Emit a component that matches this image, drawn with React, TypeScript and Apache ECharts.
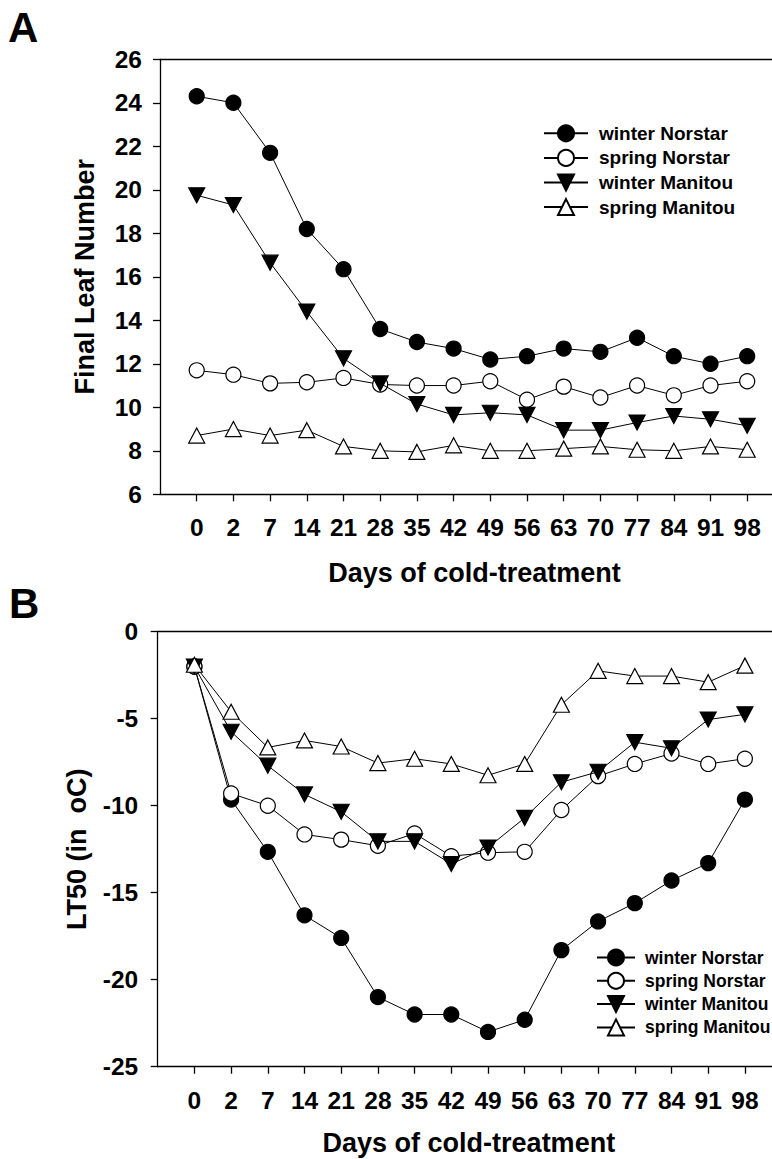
import React, { useEffect, useRef } from "react";
import * as echarts from "echarts";

const categories = ["0", "2", "7", "14", "21", "28", "35", "42", "49", "56", "63", "70", "77", "84", "91", "98"];
const seriesNames = ["winter Norstar", "spring Norstar", "winter Manitou", "spring Manitou"];

// Panel A: Final Leaf Number
const winterNorstarA = [24.3, 24.0, 21.7, 18.2, 16.35, 13.6, 13.0, 12.7, 12.2, 12.35, 12.7, 12.55, 13.2, 12.35, 12.0, 12.35];
const springNorstarA = [11.7, 11.5, 11.1, 11.15, 11.35, 11.05, 11.0, 11.0, 11.2, 10.35, 10.95, 10.45, 11.0, 10.55, 11.0, 11.2];
const winterManitouA = [19.75, 19.3, 16.65, 14.4, 12.25, 11.1, 10.15, 9.65, 9.75, 9.65, 8.95, 8.95, 9.3, 9.6, 9.45, 9.15];
const springManitouA = [8.7, 9.0, 8.7, 8.95, 8.2, 8.0, 7.95, 8.25, 8.0, 8.0, 8.1, 8.2, 8.05, 8.0, 8.2, 8.05];

// Panel B: LT50
const winterNorstarB = [-2.0, -9.65, -12.65, -16.3, -17.6, -21.0, -22.0, -22.0, -23.0, -22.3, -18.3, -16.65, -15.6, -14.3, -13.3, -9.65];
const springNorstarB = [-2.0, -9.3, -10.0, -11.65, -11.95, -12.3, -11.6, -12.9, -12.7, -12.65, -10.25, -8.3, -7.6, -7.0, -7.6, -7.3];
const winterManitouB = [-2.0, -5.75, -7.7, -9.35, -10.35, -12.05, -12.05, -13.35, -12.4, -10.7, -8.65, -8.05, -6.35, -6.7, -5.05, -4.75];
const springManitouB = [-1.9, -4.6, -6.65, -6.25, -6.6, -7.55, -7.3, -7.6, -8.25, -7.6, -4.2, -2.25, -2.55, -2.55, -2.9, -1.95];

const FONT = "'Liberation Sans', Arial, Helvetica, sans-serif";

const styles = [
  { symbol: "circle", symbolSize: 15, rotate: 0, fill: "#000" },
  { symbol: "circle", symbolSize: 15, rotate: 0, fill: "#fff" },
  { symbol: "triangle", symbolSize: [16, 15], rotate: 180, fill: "#000" },
  { symbol: "triangle", symbolSize: [16, 15], rotate: 0, fill: "#fff" },
];

const tickIdx = categories.map((_, i) => i);

function makeSeries(values: number[], k: number, gi: number) {
  const s = styles[k];
  return {
    type: "line",
    name: seriesNames[k],
    xAxisIndex: gi * 2,
    yAxisIndex: gi,
    data: values.map((v, i) => [i, v]),
    symbol: s.symbol,
    symbolSize: s.symbolSize,
    symbolRotate: s.rotate,
    showAllSymbol: true,
    silent: true,
    lineStyle: { color: "#000", width: 1 },
    itemStyle: { color: s.fill, borderColor: "#000", borderWidth: 1.2, opacity: 1 },
    emphasis: { disabled: true },
    z: 2 + k,
  };
}

function xAxes(gi: number, max: number) {
  const common = {
    type: "value",
    gridIndex: gi,
    min: -1,
    max,
    interval: 1,
    splitLine: { show: false },
    axisLine: { show: true, onZero: false, lineStyle: { color: "#000", width: 1.3 } },
  };
  return [
    {
      ...common,
      position: "bottom",
      name: "Days of cold-treatment",
      nameLocation: "middle",
      nameGap: gi === 0 ? 65 : 63,
      nameTextStyle: {
        fontFamily: FONT,
        fontWeight: "bold",
        fontSize: 27,
        color: "#000",
        padding: gi === 0 ? [0, 0, 0, 17] : [0, 0, 0, 8],
      },
      axisTick: {
        show: true,
        customValues: tickIdx,
        inside: false,
        length: 7,
        lineStyle: { color: "#000", width: 1.3 },
      },
      axisLabel: {
        show: true,
        customValues: tickIdx,
        margin: gi === 0 ? 20.5 : 21,
        fontFamily: FONT,
        fontWeight: "bold",
        fontSize: 24.5,
        color: "#000",
        formatter: (v: number) => categories[Math.round(v)] ?? "",
      },
    },
    {
      ...common,
      position: "top",
      axisTick: { show: false },
      axisLabel: { show: false },
    },
  ];
}

function yAxis(gi: number, min: number, max: number, interval: number, name: string, nameGap: number, margin: number) {
  return {
    type: "value",
    gridIndex: gi,
    min,
    max,
    interval,
    name,
    nameLocation: "middle",
    nameRotate: 90,
    nameGap,
    nameTextStyle: { fontFamily: FONT, fontWeight: "bold", fontSize: 27, color: "#000" },
    splitLine: { show: false },
    axisLine: { show: true, onZero: false, lineStyle: { color: "#000", width: 1.3 } },
    axisTick: { show: true, length: 7, lineStyle: { color: "#000", width: 1.3 } },
    axisLabel: { margin, fontFamily: FONT, fontWeight: "bold", fontSize: 24.5, color: "#000" },
  };
}

export default function App() {
  const ref = useRef<HTMLDivElement>(null);
  useEffect(() => {
    if (!ref.current) return;
    const chart = echarts.init(ref.current, null, { renderer: "svg" });
    const option = {
      animation: false,
      backgroundColor: "#fff",
      grid: [
        { left: 160, top: 59.3, right: 0, height: 435 },
        { left: 157.7, top: 631.7, right: 0, height: 435 },
      ],
      xAxis: [...xAxes(0, -1 + 612 / 36.7), ...xAxes(1, -1 + 614.3 / 36.7)],
      yAxis: [
        yAxis(0, 6, 26, 2, "Final Leaf Number", 62, 18),
        yAxis(1, -25, 0, 5, "LT50 (in  oC)", 67, 19.5),
      ],
      legend: [
        {
          data: seriesNames,
          orient: "vertical",
          left: 538,
          top: 118.3,
          itemWidth: 44,
          itemHeight: 20,
          itemGap: 4.6,
          selectedMode: false,
          textStyle: {
            fontFamily: FONT,
            fontWeight: "bold",
            fontSize: 19,
            lineHeight: 20,
            color: "#000",
            padding: [0, 0, 0, 6],
          },
        },
        {
          data: seriesNames,
          orient: "vertical",
          left: 591,
          top: 942.5,
          itemWidth: 38,
          itemHeight: 20,
          itemGap: 3.3,
          selectedMode: false,
          textStyle: {
            fontFamily: FONT,
            fontWeight: "bold",
            fontSize: 17.5,
            lineHeight: 20,
            color: "#000",
            padding: [0, 0, 0, 5],
          },
        },
      ],
      graphic: [
        {
          type: "text",
          left: 8,
          top: 6,
          style: { text: "A", font: `bold 42px ${FONT}`, fill: "#000" },
        },
        {
          type: "text",
          left: 9,
          top: 582,
          style: { text: "B", font: `bold 42px ${FONT}`, fill: "#000" },
        },
      ],
      series: [
        makeSeries(winterNorstarA, 0, 0),
        makeSeries(springNorstarA, 1, 0),
        makeSeries(winterManitouA, 2, 0),
        makeSeries(springManitouA, 3, 0),
        makeSeries(winterNorstarB, 0, 1),
        makeSeries(springNorstarB, 1, 1),
        makeSeries(winterManitouB, 2, 1),
        makeSeries(springManitouB, 3, 1),
      ],
    };
    chart.setOption(option as any);
    return () => chart.dispose();
  }, []);
  return (
    <div
      ref={ref}
      style={{ position: "absolute", left: 0, top: 0, width: 772, height: 1159, background: "#fff" }}
    />
  );
}
